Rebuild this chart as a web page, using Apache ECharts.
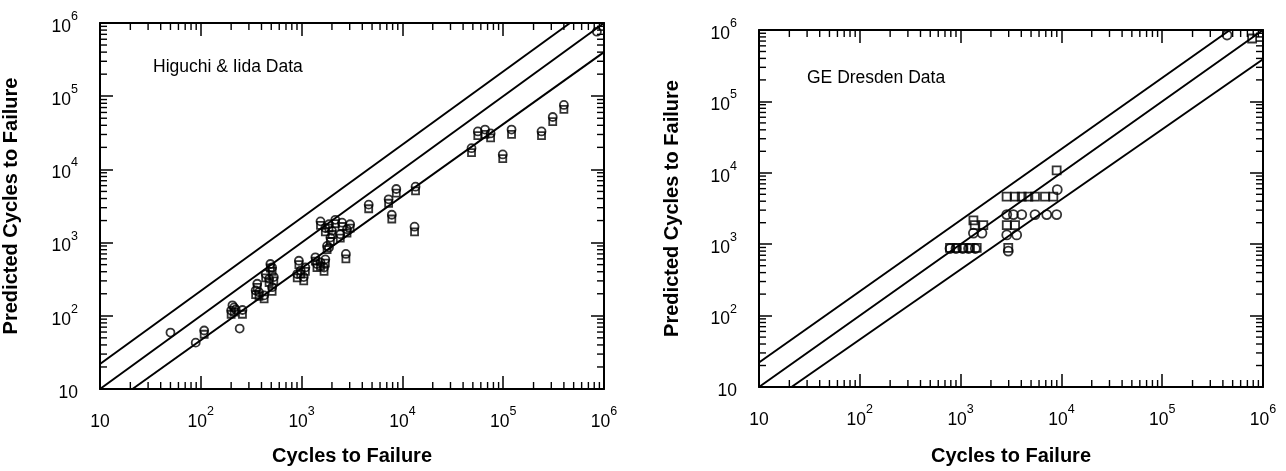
<!DOCTYPE html>
<html><head><meta charset="utf-8">
<script src="https://cdn.jsdelivr.net/npm/echarts@6/dist/echarts.min.js"></script>
<style>html,body{margin:0;padding:0;background:#fff}#c{width:1286px;height:471px}</style>
</head><body><div id="c"></div>
<script>
// ---- text ----
const panelTitles = ['Higuchi & Iida Data', 'GE Dresden Data'];
const xAxisTitle = 'Cycles to Failure';
const yAxisTitle = 'Predicted Cycles to Failure';

// ---- tick labels (base 10 with exponent) ----
const tickValues = [10, 100, 1000, 10000, 100000, 1000000];
const tickBase = '10';
const tickExponents = ['', '2', '3', '4', '5', '6'];
const minorMultipliers = [2, 3, 4, 5, 6, 7, 8, 9];
const axisMin = 10, axisMax = 1000000;

// ---- reference lines (x, y) ----
const lineUpperL = [[10, 22], [460000, 1000000]];
const lineMidL = [[10, 10], [1000000, 1000000]];
const lineLowerL = [[21, 10], [1000000, 400000]];
const lineUpperR = [[10, 22], [470000, 1000000]];
const lineMidR = [[10, 10], [1000000, 1000000]];
const lineLowerR = [[21, 10], [1000000, 390000]];

// ---- Higuchi & Iida data ----
const higuchiCircles = [
  [50,59],[89,43],[108,63],[200,118],[214,130],[222,122],[206,139],[243,67],[259,120],
  [350,222],[363,274],[378,210],[425,190],[440,372],[476,320],[490,510],[510,457],[530,338],[510,246],
  [905,372],[940,565],[980,415],[1050,338],[1090,457],
  [1370,630],[1420,510],[1540,537],[1670,457],[1720,590],
  [1790,900],[1870,855],
  [1540,1950],[1720,1580],[1870,1780],[1930,1170],[2000,1450],[2160,2050],[2420,1300],[2520,1870],[2820,1520],[3030,1780],
  [2750,700],
  [4630,3300],[7300,3900],[8700,5400],[7850,2400],[13500,5800],[13200,1650],
  [48500,19500],[56000,33000],[66000,35000],[75000,31000],[99000,16000],[121000,35000],[240000,33000],[310000,52000],[400000,76000],
  [850000,760000]
];
const higuchiSquares = [
  [108,56],[200,105],[214,112],[259,105],
  [350,195],[363,245],[378,185],[425,170],[440,330],[476,285],[490,450],[510,405],[530,300],[510,215],
  [905,330],[940,500],[980,370],[1050,300],[1090,405],
  [1370,560],[1420,455],[1540,475],[1670,405],[1720,525],
  [1790,800],
  [1540,1720],[1720,1400],[1870,1580],[1930,1040],[2000,1290],[2160,1820],[2420,1150],[2520,1660],[2820,1350],[3030,1580],
  [2750,600],
  [4630,2900],[7300,3450],[8700,4750],[7850,2100],[13500,5100],[13200,1400],
  [48500,17000],[56000,29000],[66000,30000],[75000,27000],[99000,14000],[121000,30000],[240000,29000],[310000,45000],[400000,66000]
];

// ---- GE Dresden data ----
const dresdenSquares = [
  [8970,10800],
  [2860,4630],[3470,4630],[4040,4630],[4700,4630],[5470,4630],[6870,4630],[8320,4630],
  [1340,2160],[1380,1850],[1680,1850],[2870,1850],[3470,1850],
  [785,890],[915,890],[1065,890],[1240,890],[1445,890],[2970,890],
  [780000,760000]
];
const dresdenCircles = [
  [9100,5800],
  [2870,2600],[3340,2600],[4040,2600],[5470,2600],[7150,2600],[8980,2600],
  [1340,1430],[1630,1430],[2870,1350],[3600,1350],
  [785,870],[900,870],[1050,870],[1200,870],[1400,870],[2970,800],
  [440000,850000]
];

// minor tick positions (2..9 x each decade)
const minorTickValues = [];
tickValues.slice(0, -1).forEach(d => minorMultipliers.forEach(m => minorTickValues.push([d * m, d * m])));

const FONT = 'Liberation Sans';
const richLabel = {
  b: { fontFamily: FONT, fontSize: 17.5, color: '#000', lineHeight: 26, verticalAlign: 'bottom' },
  s: { fontFamily: FONT, fontSize: 12.5, color: '#000', lineHeight: 13, verticalAlign: 'top' }
};
function fmt(v) {
  const i = tickValues.findIndex(t => Math.abs(t - v) / t < 1e-6);
  if (i < 0) return '';
  return tickExponents[i] ? '{b|' + tickBase + '}{s|' + tickExponents[i] + '}' : '{b|' + tickBase + '}';
}
const lineStyleAxis = { color: '#000', width: 2 };
const nameStyle = { fontFamily: FONT, fontSize: 20, fontWeight: 'bold', color: '#000' };

function xAx(grid, pos, main) {
  return {
    type: 'log', logBase: 10, gridIndex: grid, position: pos, min: axisMin, max: axisMax,
    axisLine: { show: true, onZero: false, lineStyle: lineStyleAxis },
    axisTick: { show: true, inside: true, length: 13, lineStyle: { color: '#000', width: 1.5 } },
    axisLabel: main ? { show: true, formatter: fmt, rich: richLabel, margin: 16 } : { show: false },
    splitLine: { show: false },
    name: main ? xAxisTitle : '', nameLocation: 'middle', nameGap: grid === 0 ? 57 : 59,
    nameTextStyle: nameStyle
  };
}
function yAx(grid, pos, main) {
  return {
    type: 'log', logBase: 10, gridIndex: grid, position: pos, min: axisMin, max: axisMax,
    axisLine: { show: true, onZero: false, lineStyle: lineStyleAxis },
    axisTick: { show: true, inside: true, length: 13, lineStyle: { color: '#000', width: 1.5 } },
    axisLabel: main ? { show: true, formatter: fmt, rich: richLabel, margin: 22 } : { show: false },
    splitLine: { show: false },
    name: main ? yAxisTitle : '', nameLocation: 'middle', nameGap: grid === 0 ? 79 : 77,
    nameTextStyle: nameStyle
  };
}

function refLine(data, xi, yi) {
  return { type: 'line', data: data, xAxisIndex: xi, yAxisIndex: yi, showSymbol: false, symbol: 'none',
    lineStyle: { color: '#000', width: 2 }, silent: true, z: 3 };
}
function scat(data, sym, size, xi, yi) {
  return { type: 'scatter', data: data, xAxisIndex: xi, yAxisIndex: yi, symbol: sym, symbolSize: size,
    itemStyle: { color: 'rgba(0,0,0,0)', borderColor: '#000', borderWidth: 1.8 }, silent: true, z: 4 };
}
function minorTicks(xi, yi) {
  return {
    type: 'custom', xAxisIndex: xi, yAxisIndex: yi, data: minorTickValues, silent: true, z: 5, clip: false,
    renderItem: function (params, api) {
      const v = api.value(0);
      const L = 7;
      const b = api.coord([v, axisMin]), t = api.coord([v, axisMax]);
      const l = api.coord([axisMin, v]), r = api.coord([axisMax, v]);
      const st = { stroke: '#000', lineWidth: 1.4 };
      return { type: 'group', children: [
        { type: 'line', shape: { x1: b[0], y1: b[1], x2: b[0], y2: b[1] - L }, style: st },
        { type: 'line', shape: { x1: t[0], y1: t[1], x2: t[0], y2: t[1] + L }, style: st },
        { type: 'line', shape: { x1: l[0], y1: l[1], x2: l[0] + L, y2: l[1] }, style: st },
        { type: 'line', shape: { x1: r[0], y1: r[1], x2: r[0] - L, y2: r[1] }, style: st }
      ] };
    }
  };
}

const chart = echarts.init(document.getElementById('c'), null, { renderer: 'canvas' });
chart.setOption({
  backgroundColor: '#fff',
  animation: false,
  title: [
    { text: panelTitles[0], left: 153, top: 58, padding: 0, textStyle: { fontFamily: FONT, fontSize: 17.5, fontWeight: 'normal', color: '#000' } },
    { text: panelTitles[1], left: 807, top: 69, padding: 0, textStyle: { fontFamily: FONT, fontSize: 17.5, fontWeight: 'normal', color: '#000' } }
  ],
  grid: [
    { left: 97, top: 23, width: 507, height: 370 },
    { left: 759, top: 30, width: 504, height: 369 }
  ],
  xAxis: [xAx(0, 'bottom', true), xAx(0, 'top', false), xAx(1, 'bottom', true), xAx(1, 'top', false)],
  yAxis: [yAx(0, 'left', true), yAx(0, 'right', false), yAx(1, 'left', true), yAx(1, 'right', false)],
  series: [
    refLine(lineUpperL, 0, 0), refLine(lineMidL, 0, 0), refLine(lineLowerL, 0, 0),
    scat(higuchiSquares, 'rect', 7, 0, 0), scat(higuchiCircles, 'circle', 8, 0, 0),
    minorTicks(0, 0),
    refLine(lineUpperR, 2, 2), refLine(lineMidR, 2, 2), refLine(lineLowerR, 2, 2),
    scat(dresdenSquares, 'rect', 8, 2, 2), scat(dresdenCircles, 'circle', 9, 2, 2),
    minorTicks(2, 2)
  ]
});
</script></body></html>
